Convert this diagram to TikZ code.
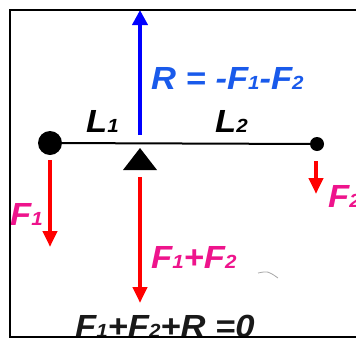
\documentclass[tikz,border=0pt]{standalone}
\usepackage{fontspec}
\setmainfont{Liberation Sans}
\usepackage{graphicx}
\usetikzlibrary{arrows.meta}
\definecolor{arrblue}{RGB}{0,0,255}
\definecolor{txtblue}{RGB}{25,90,235}
\definecolor{frcred}{RGB}{255,0,0}
\definecolor{frcpink}{RGB}{238,20,140}
\definecolor{txtblack}{RGB}{25,25,25}
\newcommand\sbs[1]{{\fontsize{19}{19}\selectfont #1}}
\newcommand\wid[1]{\scalebox{1.08}[1]{#1}}
\begin{document}
\begin{tikzpicture}[x=1pt,y=-1pt,
  lbl/.style={inner sep=0pt, anchor=base west, font=\fontsize{32}{32}\selectfont\bfseries\itshape},
  force/.style={draw=frcred, line width=4pt, -{Triangle[length=16pt,width=14pt]}},
  react/.style={draw=arrblue, line width=4pt, -{Triangle[length=15pt,width=15pt]}},
  mass/.style={circle, fill=black, inner sep=0pt}
  ]
\useasboundingbox (0,0) rectangle (356,338);
\clip (0,0) rectangle (356,338);
% beam and masses
\node[mass, minimum size=24pt] (m1) at (50,143) {};
\node[mass, minimum size=14pt] (m2) at (317,144) {};
\draw[line width=2pt] (m1) -- (m2);
% pivot
\fill (140,148) -- (123,170) -- (157,170) -- cycle;
% reaction arrow
\coordinate (rs) at (140,135);
\coordinate (re) at (140,10);
\draw[react] (rs) -- (re);
% force arrows
\coordinate (f1s) at (50,160);
\coordinate (f1e) at (50,247);
\draw[force] (f1s) -- (f1e);
\coordinate (f2s) at (316,161);
\coordinate (f2e) at (316,194);
\draw[force] (f2s) -- (f2e);
\coordinate (fss) at (140,177);
\coordinate (fse) at (140,303);
\draw[force] (fss) -- (fse);
% labels
\node[lbl, text=txtblue] (rlab) at (151,89) {\wid{R = -F\sbs{1}-F\sbs{2}}};
\node[lbl, text=black] (l1) at (86,132) {\wid{L\sbs{1}}};
\node[lbl, text=black] (l2) at (215,132) {\wid{L\sbs{2}}};
\node[lbl, text=frcpink] (f1l) at (10,225) {\wid{F\sbs{1}}};
\node[lbl, text=frcpink] (f2l) at (328,207) {\wid{F\sbs{2}}};
\node[lbl, text=frcpink] (fsl) at (151,268) {\wid{F\sbs{1}+F\sbs{2}}};
\node[lbl, text=txtblack] (sum) at (75,337) {\wid{F\sbs{1}+F\sbs{2}+R =0}};
% stray stroke
\draw[gray!70, line width=0.8pt] (258,273) .. controls (268,271) .. (278,278);
% frame
\draw[line width=2pt] (10,10) rectangle (380,337);
\end{tikzpicture}
\end{document}
